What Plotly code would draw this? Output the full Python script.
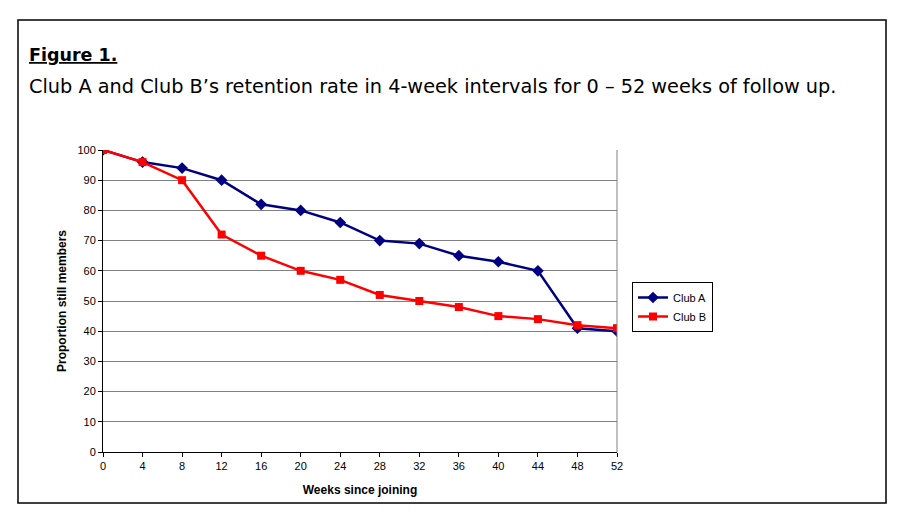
import plotly.graph_objects as go

weeks = [0, 4, 8, 12, 16, 20, 24, 28, 32, 36, 40, 44, 48, 52]
club_a = [100, 96, 94, 90, 82, 80, 76, 70, 69, 65, 63, 60, 41, 40]
club_b = [100, 96, 90, 72, 65, 60, 57, 52, 50, 48, 45, 44, 42, 41]
x_ticks = list(range(0, 53, 4))
y_ticks = list(range(0, 101, 10))

OFF = 8  # page body margin
W, H = 906 - OFF, 523 - OFF
L, R, T, B = 103 - OFF, 617 - OFF, 150 - OFF, 452 - OFF

def px(x):
    return (x - OFF - L) / (R - L)

def py(y):
    return (B - (y - OFF)) / (B - T)

fig = go.Figure()
fig.add_trace(go.Scatter(x=weeks, y=club_a, name="Club A", mode="lines+markers",
                         line=dict(color="#000080", width=2.5),
                         marker=dict(symbol="diamond", size=9, color="#000080")))
fig.add_trace(go.Scatter(x=weeks, y=club_b, name="Club B", mode="lines+markers",
                         line=dict(color="#FF0000", width=2.5),
                         marker=dict(symbol="square", size=8, color="#FF0000")))

fig.update_layout(
    width=W, height=H,
    margin=dict(l=L, r=W - R, t=T, b=H - B),
    paper_bgcolor="white", plot_bgcolor="white",
    font=dict(family="Liberation Sans, Arial", size=11, color="black"),
    showlegend=True,
    legend=dict(x=px(632), y=py(282), xanchor="left", yanchor="top",
                bordercolor="black", borderwidth=1, bgcolor="white",
                font=dict(size=11), tracegroupgap=0, itemwidth=30),
    xaxis=dict(range=[0, 52], tickvals=x_ticks, showgrid=False, zeroline=False,
               showline=True, linecolor="black", linewidth=1,
               ticks="outside", ticklen=4, tickcolor="black",
               title=dict(text="<b>Weeks since joining</b>", font=dict(size=12), standoff=14)),
    yaxis=dict(range=[0, 100], tickvals=y_ticks, showgrid=True, gridcolor="#808080",
               gridwidth=1, zeroline=False,
               showline=True, linecolor="black", linewidth=1,
               ticks="outside", ticklen=4, tickcolor="black",
               title=dict(text="<b>Proportion still members</b>", font=dict(size=12), standoff=8)),
)

# right edge of plot area
fig.add_shape(type="line", xref="paper", yref="paper", x0=1, x1=1, y0=0, y1=1,
              line=dict(color="#808080", width=1))
# outer border box
fig.add_shape(type="rect", xref="paper", yref="paper",
              x0=px(18), x1=px(886), y0=py(503), y1=py(20),
              line=dict(color="black", width=1.5), layer="below")

fig.add_annotation(xref="paper", yref="paper", x=px(27), y=py(55), xanchor="left",
                   yanchor="middle", showarrow=False,
                   text="<b><u>Figure 1.</u></b>",
                   font=dict(family="DejaVu Sans", size=17.5, color="black"))
fig.add_annotation(xref="paper", yref="paper", x=px(27), y=py(86), xanchor="left",
                   yanchor="middle", showarrow=False,
                   text="Club A and Club B\u2019s retention rate in 4-week intervals for 0 \u2013 52 weeks of follow up.",
                   font=dict(family="DejaVu Sans", size=19.3, color="black"))

fig.write_html("out.html")
